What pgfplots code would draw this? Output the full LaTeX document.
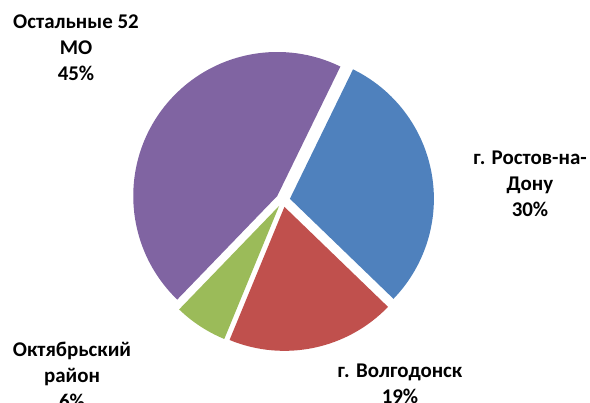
\documentclass[border=0pt]{standalone}
\usepackage{fontspec}
\setmainfont{Carlito}
\usepackage{pgfplots}
\usepackage{pgfplotstable}
\pgfplotsset{compat=1.18}
\definecolor{cblue}{HTML}{4F81BD}
\definecolor{cred}{HTML}{C0504D}
\definecolor{cgreen}{HTML}{9BBB59}
\definecolor{cpurple}{HTML}{8064A2}
\pgfplotstableread{
value color
30 cblue
19 cred
6 cgreen
45 cpurple
}\piedata
\begin{document}
\begin{tikzpicture}
\begin{axis}[hide axis, disabledatascaling, x=1bp, y=1bp,
  xmin=0, xmax=590, ymin=0, ymax=403, clip=false,
  at={(0,0)}, anchor=south west]
\pgfmathsetmacro{\cur}{64}
\pgfplotsforeachungrouped \i in {0,...,3}{%
  \pgfplotstablegetelem{\i}{value}\of\piedata
  \pgfmathsetmacro{\sweep}{\pgfplotsretval*3.6}%
  \pgfmathsetmacro{\endang}{\cur-\sweep}%
  \pgfmathsetmacro{\midang}{\cur-\sweep/2}%
  \pgfmathsetmacro{\vx}{283+7*cos(\midang)}%
  \pgfmathsetmacro{\vy}{203+7*sin(\midang)}%
  \pgfplotstablegetelem{\i}{color}\of\piedata
  \let\col\pgfplotsretval
  \edef\temp{\noexpand\fill[\col] (axis cs:\vx,\vy) -- ++(\cur:144bp) arc[start angle=\cur, end angle=\endang, radius=144bp] -- cycle;}%
  \temp
  \let\cur\endang
}
\node[font=\bfseries\fontsize{21}{26}\selectfont, align=center] at (axis cs:76,355) {Остальные 52\\МО\\45\%};
\node[font=\bfseries\fontsize{21}{26}\selectfont, align=center] at (axis cs:530,219) {г. Ростов-на-\\Дону\\30\%};
\node[font=\bfseries\fontsize{21}{26}\selectfont, align=center] at (axis cs:400,19) {г. Волгодонск\\19\%};
\node[font=\bfseries\fontsize{21}{26}\selectfont, align=center] at (axis cs:72,28) {Октябрьский\\район\\6\%};
\end{axis}
\pgfresetboundingbox
\useasboundingbox (0,0) rectangle (590bp,403bp);
\end{tikzpicture}
\end{document}
